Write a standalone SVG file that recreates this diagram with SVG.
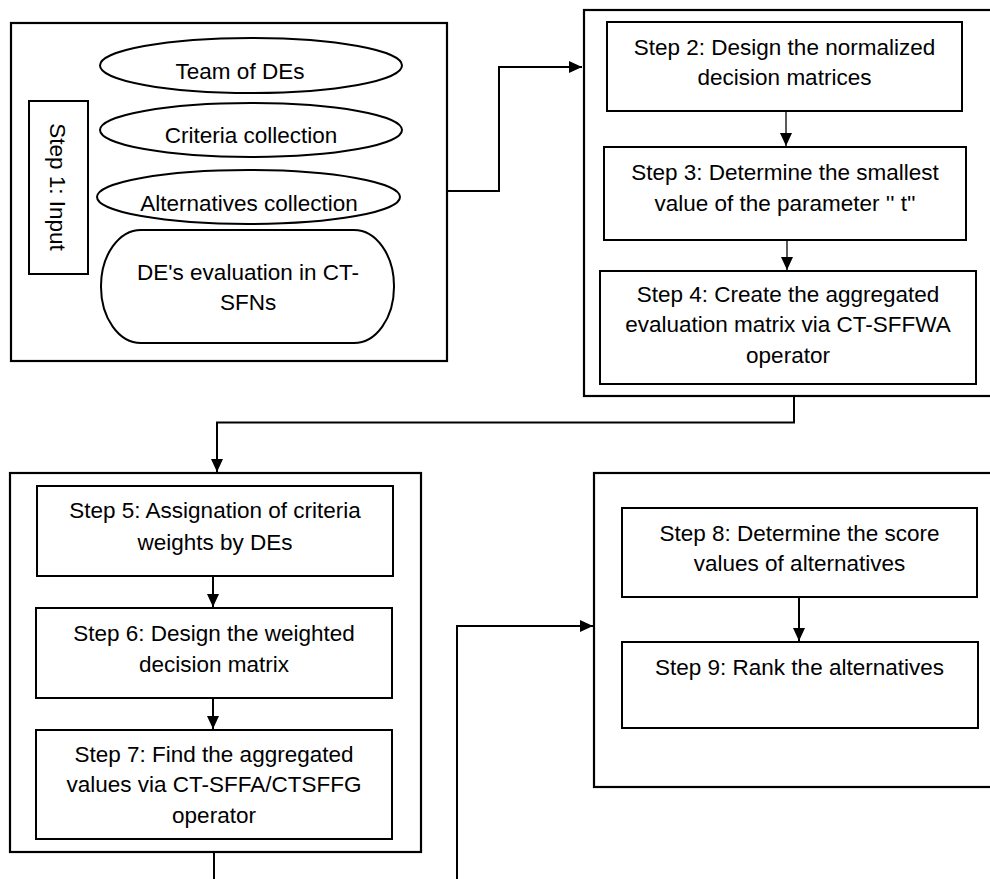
<svg xmlns="http://www.w3.org/2000/svg" width="990" height="879" viewBox="0 0 990 879">
  <defs>
    <marker id="arr" markerUnits="userSpaceOnUse" markerWidth="13" markerHeight="12" refX="13" refY="6" orient="auto">
      <path d="M0,0 L13,6 L0,12 z" fill="#000"/>
    </marker>
    <style>
      .box { fill: #fff; stroke: #000; stroke-width: 2.2; }
      .shape { fill: #fff; stroke: #000; stroke-width: 2; }
      .t { font-family: "Liberation Sans", Arial, sans-serif; font-size: 22.5px; fill: #000; text-anchor: middle; }
      .c { fill: none; stroke: #000; stroke-width: 2; }
      .thin { fill: none; stroke: #000; stroke-width: 1.3; }
    </style>
  </defs>
  <rect width="990" height="879" fill="#fff"/>

  <g id="group-input">
    <rect class="box" x="11" y="23" width="436" height="338"/>
    <g id="step1">
      <rect class="shape" x="29" y="101" width="59" height="173"/>
      <text class="t" transform="translate(58,187) rotate(90)" y="8">Step 1: Input</text>
    </g>
    <g id="team">
      <ellipse class="shape" cx="251" cy="65.5" rx="151" ry="27.5"/>
      <text class="t" x="240" y="79">Team of DEs</text>
    </g>
    <g id="criteria">
      <ellipse class="shape" cx="251" cy="130" rx="151" ry="27"/>
      <text class="t" x="251" y="143">Criteria collection</text>
    </g>
    <g id="alternatives">
      <ellipse class="shape" cx="248.5" cy="197" rx="151.5" ry="27"/>
      <text class="t" x="249" y="211">Alternatives collection</text>
    </g>
    <g id="evaluation">
      <rect class="shape" x="101" y="230" width="293" height="113" rx="40" ry="56"/>
      <text class="t" x="248" y="280">DE's evaluation in CT-</text>
      <text class="t" x="248" y="310">SFNs</text>
    </g>
  </g>

  <g id="group-2-4">
    <rect class="box" x="584" y="10" width="420" height="386"/>
    <g id="step2">
      <rect class="shape" x="607" y="22" width="355" height="89"/>
      <text class="t" x="784.5" y="55">Step 2: Design the normalized</text>
      <text class="t" x="784.5" y="85">decision matrices</text>
    </g>
    <g id="step3">
      <rect class="shape" x="604" y="147" width="362" height="93"/>
      <text class="t" x="785" y="180">Step 3: Determine the smallest</text>
      <text class="t" x="785" y="211">value of the parameter  '' t''</text>
    </g>
    <g id="step4">
      <rect class="shape" x="600" y="271" width="376" height="113"/>
      <text class="t" x="788" y="302">Step 4: Create the aggregated</text>
      <text class="t" x="788" y="332">evaluation matrix via CT-SFFWA</text>
      <text class="t" x="788" y="363">operator</text>
    </g>
  </g>

  <g id="group-5-7">
    <rect class="box" x="10" y="473" width="411" height="379"/>
    <g id="step5">
      <rect class="shape" x="37" y="486" width="356" height="90"/>
      <text class="t" x="215" y="518">Step 5: Assignation of criteria</text>
      <text class="t" x="215" y="550">weights by DEs</text>
    </g>
    <g id="step6">
      <rect class="shape" x="36" y="608" width="356" height="90"/>
      <text class="t" x="214" y="641">Step 6: Design the weighted</text>
      <text class="t" x="214" y="672">decision matrix</text>
    </g>
    <g id="step7">
      <rect class="shape" x="36" y="730" width="356" height="109"/>
      <text class="t" x="214" y="762">Step 7: Find the aggregated</text>
      <text class="t" x="214" y="792">values via CT-SFFA/CTSFFG</text>
      <text class="t" x="214" y="823">operator</text>
    </g>
  </g>

  <g id="group-8-9">
    <rect class="box" x="594" y="473" width="410" height="314"/>
    <g id="step8">
      <rect class="shape" x="622" y="508" width="355" height="89"/>
      <text class="t" x="799.5" y="541">Step 8: Determine the score</text>
      <text class="t" x="799.5" y="571">values of alternatives</text>
    </g>
    <g id="step9">
      <rect class="shape" x="622" y="642" width="356" height="86"/>
      <text class="t" x="799.5" y="675">Step 9: Rank the alternatives</text>
    </g>
  </g>

  <g id="connectors">
    <path class="c" d="M447,191 H499 V67 H582" marker-end="url(#arr)"/>
    <path class="thin" d="M786,111 V146" marker-end="url(#arr)"/>
    <path class="thin" d="M787,240 V270" marker-end="url(#arr)"/>
    <path class="c" d="M794,397 V422.5 H217 V472" marker-end="url(#arr)"/>
    <path class="c" d="M213,576 V607" marker-end="url(#arr)"/>
    <path class="c" d="M213,698 V729" marker-end="url(#arr)"/>
    <path class="c" d="M214,852 V879"/>
    <path class="c" d="M457,879 V626 H593" marker-end="url(#arr)"/>
    <path class="c" d="M799,597 V641" marker-end="url(#arr)"/>
  </g>
</svg>
